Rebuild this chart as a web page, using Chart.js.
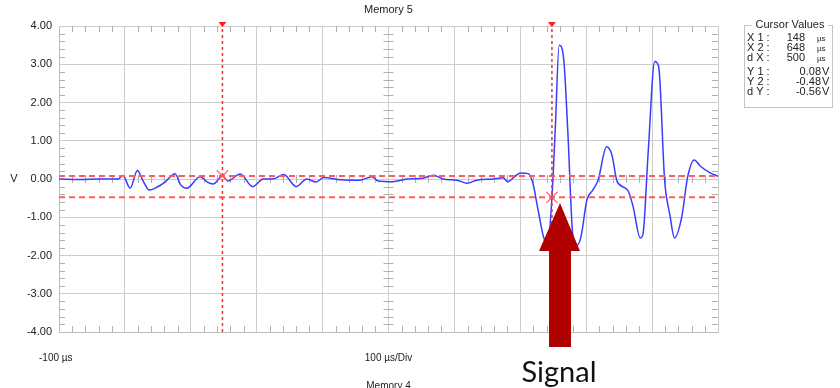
<!DOCTYPE html>
<html>
<head>
<meta charset="utf-8">
<script src="https://cdn.jsdelivr.net/npm/chart.js@4.4.1/dist/chart.umd.min.js"></script>
<style>
  html, body { margin: 0; padding: 0; background: #fff; }
  #wrap { width: 840px; height: 388px; position: relative; }
</style>
</head>
<body>
<div id="wrap"><canvas id="scopeChart"></canvas></div>
<script>
// waveform, time in µs and voltage in V
var waveTimes = [-100, -68, -38, -10, -3, 8, 19, 27, 37, 49, 61, 76, 85, 94, 114, 125, 134, 148, 156, 175,
    194, 210, 225, 241, 260, 276, 290, 302, 322, 346, 357, 375, 384, 407, 428, 452, 468, 483, 504, 519,
    534, 559, 574, 581, 590, 600, 612, 619, 627, 637, 642, 648, 653, 659, 666, 672, 680, 686, 692, 701,
    710, 718, 731, 739, 747, 763, 771, 782, 786, 794, 804, 810, 819, 827, 834, 845, 854, 864, 873, 888, 900];
var waveVolts = [0.00, -0.01, 0.00, 0.00, 0.09, -0.24, 0.22, -0.03, -0.29, -0.21, -0.08, 0.14, -0.16, -0.24, 0.06, -0.08, -0.13, 0.08, -0.05, 0.13,
    -0.20, 0.00, 0.00, 0.12, -0.20, 0.00, -0.08, 0.04, -0.01, -0.03, -0.03, 0.06, -0.05, -0.07, 0.00, 0.02, 0.10, 0.00, -0.03, -0.11,
    -0.03, 0.00, 0.03, -0.07, 0.04, 0.16, 0.14, -0.10, -0.81, -1.60, -1.65, -0.48, 1.28, 3.50, 3.11, 1.28, -1.52, -1.73, -1.52, -0.55,
    -0.29, -0.03, 0.84, 0.63, -0.07, -0.29, -0.71, -1.54, -1.46, 0.68, 3.07, 2.93, -0.03, -0.94, -1.54, -0.99, 0.06, 0.50, 0.34, 0.16, 0.07];

var yTickLabels = ['-4.00', '-3.00', '-2.00', '-1.00', '0.00', '1.00', '2.00', '3.00', '4.00'];
var cursorTimes = [148, 648];
var cursorVolts = [0.08, -0.48];
var cursorLabels = ['X 1 :', 'X 2 :', 'd X :', 'Y 1 :', 'Y 2 :', 'd Y :'];
var cursorValues = ['148', '648', '500', '0.08', '-0.48', '-0.56'];
var cursorUnits = ['µs', 'µs', 'µs', 'V', 'V', 'V'];

var wavePoints = waveTimes.map(function (t, i) { return { x: t, y: waveVolts[i] }; });

var vCursorSets = cursorTimes.map(function (t) {
    return {
        data: [{ x: t, y: -4 }, { x: t, y: 4 }],
        showLine: true, borderColor: '#ff2a2a', borderWidth: 1.5, borderDash: [3, 3],
        pointRadius: 0, order: 1
    };
});
var hCursorSets = cursorVolts.map(function (v) {
    return {
        data: [{ x: -100, y: v }, { x: 900, y: v }],
        showLine: true, borderColor: '#ff5c5c', borderWidth: 2, borderDash: [6, 4],
        pointRadius: 0, order: 1
    };
});

var minorTicks = {
    id: 'minorTicks',
    beforeDatasetsDraw: function (chart) {
        var ctx = chart.ctx, a = chart.chartArea;
        var xs = chart.scales.x, ys = chart.scales.y;
        var cx = xs.getPixelForValue(400), cy = ys.getPixelForValue(0);
        ctx.save();
        ctx.strokeStyle = '#b0b0b0';
        ctx.lineWidth = 1;
        ctx.beginPath();
        for (var t = -80; t < 900; t += 20) {
            if (t % 100 === 0) continue;
            var px = Math.round(xs.getPixelForValue(t)) + 0.5;
            ctx.moveTo(px, a.top); ctx.lineTo(px, a.top + 6);
            ctx.moveTo(px, a.bottom); ctx.lineTo(px, a.bottom - 6);
            ctx.moveTo(px, cy - 4); ctx.lineTo(px, cy + 4);
        }
        for (var k = -19; k < 20; k++) {
            if (k % 5 === 0) continue;
            var py = Math.round(ys.getPixelForValue(k * 0.2)) + 0.5;
            ctx.moveTo(a.left, py); ctx.lineTo(a.left + 6, py);
            ctx.moveTo(a.right, py); ctx.lineTo(a.right - 6, py);
            ctx.moveTo(cx - 5, py); ctx.lineTo(cx + 5, py);
        }
        ctx.stroke();
        ctx.restore();
    },
    afterDraw: function (chart) {
        var ctx = chart.ctx, a = chart.chartArea;
        var xs = chart.scales.x;
        ctx.save();
        // cursor markers on top edge
        ctx.fillStyle = '#ff1a1a';
        cursorTimes.forEach(function (t) {
            var px = xs.getPixelForValue(t);
            ctx.beginPath();
            ctx.moveTo(px - 4, a.top - 4); ctx.lineTo(px + 4, a.top - 4); ctx.lineTo(px, a.top + 1);
            ctx.closePath(); ctx.fill();
        });
        // texts
        ctx.fillStyle = '#222';
        ctx.font = '11px "Liberation Sans", Arial, sans-serif';
        ctx.textAlign = 'center';
        ctx.textBaseline = 'middle';
        var mid = (a.left + a.right) / 2;
        ctx.fillText('Memory 5', mid, 10);
        ctx.fillText('V', 14, chart.scales.y.getPixelForValue(0));
        ctx.font = '10px "Liberation Sans", Arial, sans-serif';
        ctx.fillText('100 µs/Div', mid, 358);
        ctx.fillText('Memory 4', mid, 386);
        ctx.textAlign = 'left';
        ctx.fillText('-100 µs', 39, 358);

        // cursor values box
        ctx.strokeStyle = '#c4c4c4';
        ctx.lineWidth = 1;
        ctx.strokeRect(744.5, 25.5, 88, 82);
        ctx.fillStyle = '#fff';
        ctx.fillRect(752, 19, 76, 12);
        ctx.fillStyle = '#222';
        ctx.textAlign = 'center';
        ctx.font = '11px "Liberation Sans", Arial, sans-serif';
        ctx.fillText('Cursor Values', 790, 25);
        var rowsY = [38, 48, 58, 72, 82, 92];
        cursorLabels.forEach(function (lab, i) {
            var y = rowsY[i];
            ctx.font = '11px "Liberation Sans", Arial, sans-serif';
            ctx.textAlign = 'left';
            ctx.fillText(lab, 747, y);
            if (i < 3) {
                ctx.textAlign = 'right';
                ctx.fillText(cursorValues[i], 805, y);
                ctx.textAlign = 'left';
                ctx.font = '8px "Liberation Sans", Arial, sans-serif';
                ctx.fillText(cursorUnits[i], 817, y + 1);
            } else {
                ctx.textAlign = 'right';
                ctx.fillText(cursorValues[i], 821, y);
                ctx.textAlign = 'left';
                ctx.fillText(cursorUnits[i], 822, y);
            }
        });

        // annotation arrow
        ctx.fillStyle = '#b00000';
        ctx.beginPath();
        ctx.moveTo(560, 203); ctx.lineTo(580, 251); ctx.lineTo(571, 251); ctx.lineTo(571, 347);
        ctx.lineTo(549, 347); ctx.lineTo(549, 251); ctx.lineTo(539, 251);
        ctx.closePath(); ctx.fill();
        ctx.fillStyle = '#111';
        ctx.font = '29px Lato, "Open Sans", sans-serif';
        ctx.textAlign = 'center';
        ctx.textBaseline = 'alphabetic';
        ctx.fillText('Signal', 559, 382);
        ctx.restore();
    }
};

new Chart(document.getElementById('scopeChart').getContext('2d'), {
    type: 'scatter',
    data: {
        datasets: vCursorSets.concat(hCursorSets).concat([
            {
                data: cursorTimes.map(function (t, i) { return { x: t, y: cursorVolts[i] }; }),
                pointStyle: 'crossRot', radius: 8, borderColor: 'rgba(255,80,80,0.85)',
                borderWidth: 1.2, order: 0
            },
            {
                data: wavePoints,
                showLine: true, borderColor: '#3b3bff', borderWidth: 1.5,
                cubicInterpolationMode: 'monotone', pointRadius: 0, order: 2
            }
        ])
    },
    options: {
        responsive: true,
        maintainAspectRatio: false,
        animation: false,
        layout: { padding: { left: 0, top: 26, right: 122, bottom: 56 } },
        plugins: { legend: { display: false }, tooltip: { enabled: false } },
        scales: {
            x: {
                type: 'linear', min: -100, max: 900,
                ticks: { display: false, stepSize: 100 },
                grid: { color: '#cccccc', drawTicks: false },
                border: { color: '#bdbdbd' },
                afterFit: function (scale) { scale.height = 0; }
            },
            y: {
                min: -4, max: 4,
                ticks: {
                    stepSize: 1, padding: 7, color: '#222',
                    font: { family: '"Liberation Sans", Arial, sans-serif', size: 11 },
                    callback: function (v) { return yTickLabels[Math.round(v) + 4]; }
                },
                grid: { color: '#cccccc', drawTicks: false },
                border: { color: '#bdbdbd' },
                afterFit: function (scale) { scale.width = 59; }
            }
        }
    },
    plugins: [minorTicks]
});
</script>
</body>
</html>
